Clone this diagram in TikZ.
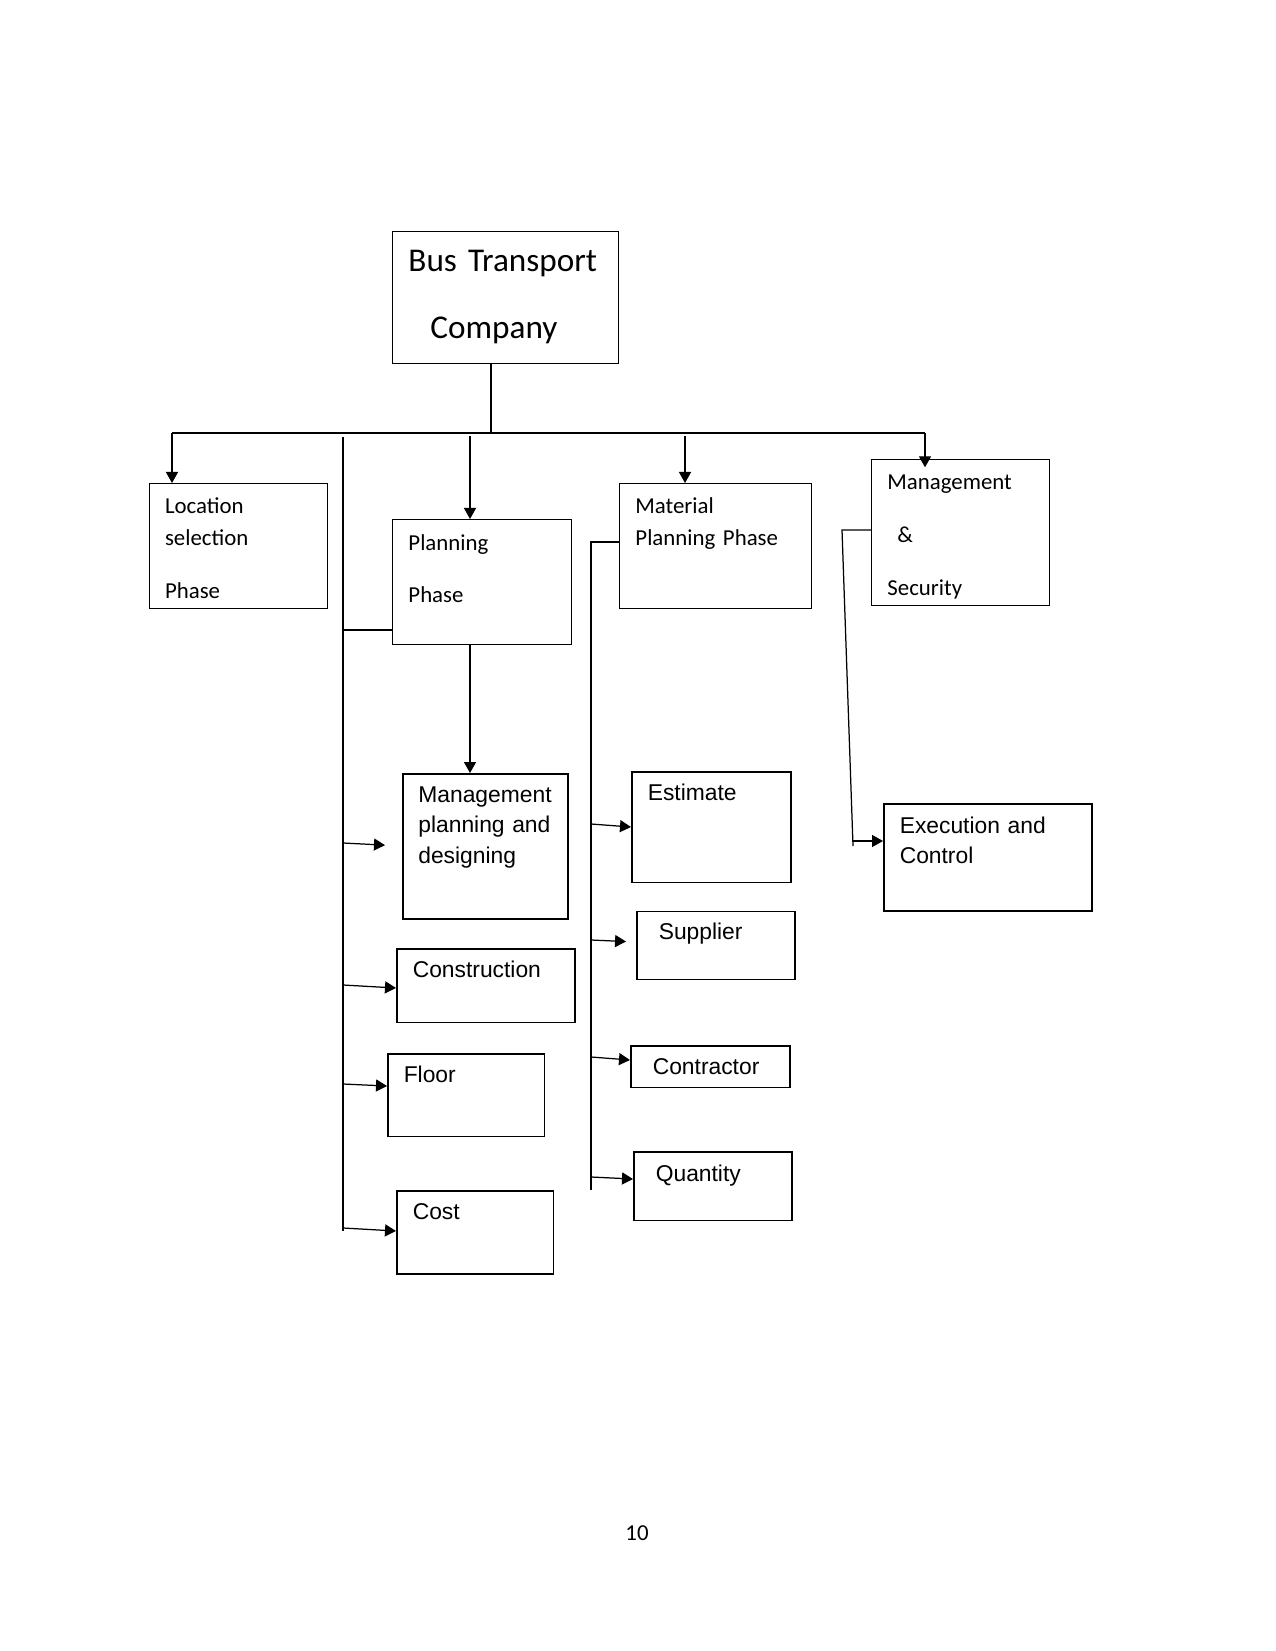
\documentclass[tikz,border=0pt]{standalone}
\usepackage{fontspec}
\setmainfont{Carlito}
\newfontfamily\arialfont{Liberation Sans}
\usetikzlibrary{arrows.meta,calc}
\def\wThin{0.45pt}
\def\wBox{0.75pt}
\def\wLink{0.6pt}
\definecolor{cInk}{HTML}{000000}
\tikzset{
  box/.style={draw=cInk, line width=\wThin, anchor=north west, align=left, inner ysep=0pt, inner xsep=7.7pt,
    font=\fontsize{11}{15.27}\selectfont},
  leaf/.style={box, line width=\wBox, font=\arialfont\fontsize{11}{14.7}\selectfont},
  link/.style={draw=cInk, line width=\wLink},
  feed/.style={link, -{Triangle[length=5.3pt, width=5.8pt]}},
}

\begin{document}
\begin{tikzpicture}[x=0.48176pt, y=-0.48176pt]
% page in px (1275 x 1651), y runs down
\useasboundingbox (0,0) rectangle (1275,1651);

% ---- top and first level (Calibri-like)
\node[box, text width=93.5pt, text height=19.3pt, text depth=44.3pt, font=\fontsize{16}{32.3}\selectfont] (btc) at (392,231) {Bus Transport\\ \hspace*{10.6pt}Company};
\node[box, inner xsep=7.5pt, text width=70.8pt, text height=14.5pt, text depth=45.7pt] (loc) at (149,483) {Location\\ selection\\[10.4pt] Phase};
\node[box, text width=70.8pt, text height=14.9pt, text depth=45.3pt] (plan) at (392,519) {Planning\\[9.6pt] Phase};
\node[box, text width=77.1pt, text height=14.5pt, text depth=45.7pt] (mat) at (619,483) {Material\\ Planning Phase};
\node[box, text width=70.4pt, text height=14.5pt, text depth=55.8pt] (mgs) at (871,459) {Management\\[10pt] \hspace*{4.8pt}\&\\[10.4pt] Security};

% ---- leaves (Arial-like)
\node[leaf, inner xsep=7.5pt, text width=64.5pt, text height=13.8pt, text depth=56.1pt] (mpd) at (402,773) {Management\\ planning and\\ designing};
\node[leaf, text width=70.4pt, text height=13.8pt, text depth=21.7pt] (con) at (396,948) {Construction};
\node[leaf, text width=60.2pt, text height=13.6pt, text depth=26.2pt] (flr) at (387,1053) {Floor};
\node[leaf, text width=60.2pt, text height=14pt, text depth=26.2pt] (cst) at (396,1190) {Cost};
\node[leaf, text width=61.2pt, text height=13.8pt, text depth=39.5pt] (est) at (631,771) {Estimate};
\node[leaf, inner xsep=10.6pt, text width=54.9pt, text height=13.7pt, text depth=19.1pt] (sup) at (636,910.5) {Supplier};
\node[leaf, inner xsep=10.6pt, text width=55.4pt, text height=13.7pt, text depth=6.5pt] (ctr) at (630,1045) {Contractor};
\node[leaf, inner xsep=10.6pt, text width=54.9pt, text height=14.5pt, text depth=18.7pt] (qty) at (633,1151) {Quantity};
\node[leaf, text width=84.8pt, text height=14.1pt, text depth=37.5pt] (exe) at (883,803) {Execution and\\ Control};

\node[font=\fontsize{11}{13}\selectfont] (pg) at (637,1533) {10};

% ---- trunk
\coordinate (bar) at (491,433);
\coordinate (barL) at (172,433);
\coordinate (barR) at (925,433);
\coordinate (tapP) at (470,436);
\coordinate (tapM) at (685,436);
\draw[link] (bar |- btc.south) -- (bar);
\draw[link] (barL) -- (barR);
\draw[feed] (barL) -- (barL |- loc.north);
\draw[feed] (tapP) -- (tapP |- plan.north);
\draw[feed] (tapM) -- (tapM |- mat.north);
\draw[feed, shorten >=-4pt] (barR) -- (barR |- mgs.north);

% ---- planning branch
\coordinate (lvT) at (343,437);
\coordinate (lvB) at (343,1231);
\draw[link] (lvT) -- (lvB);
\draw[link] (lvT |- 0,630) -- (plan.west |- 0,630);
\draw[feed] (tapP |- plan.south) -- (tapP |- mpd.north);
\foreach \n/\ys/\ye/\gap in {mpd/843/846/8.2pt, con/985/988/0pt, flr/1084/1086/0pt, cst/1228/1231/0pt}
  \draw[feed, shorten >=\gap] (lvT |- 0,\ys) -- (\n.west |- 0,\ye);

% ---- material branch
\coordinate (rvT) at (591,542);
\coordinate (rvB) at (591,1190);
\draw[link] (mat.west |- rvT) -- (rvT) -- (rvB);
\foreach \n/\ys/\ye/\gap in {est/824/827/0pt, sup/940/942/4.8pt, ctr/1057/1060/0pt, qty/1177/1179/0pt}
  \draw[feed, shorten >=\gap] (rvT |- 0,\ys) -- (\n.west |- 0,\ye);

% ---- management branch
\coordinate (mvT) at (842,530);
\coordinate (mvB) at (853,846);
\draw[link] (mgs.west |- mvT) -- (mvT) -- (mvB);
\draw[feed] (mvB |- 0,841) -- (exe.west |- 0,841);
\end{tikzpicture}
\end{document}
